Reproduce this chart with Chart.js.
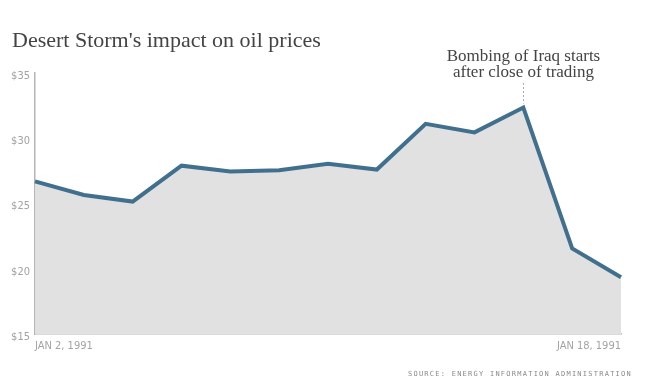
<!DOCTYPE html>
<html>
<head>
<meta charset="utf-8">
<script src="https://cdn.jsdelivr.net/npm/chart.js@4"></script>
<style>
  html, body { margin: 0; padding: 0; background: #fff; }
  #wrap { width: 645px; height: 390px; }
</style>
</head>
<body>
<div id="wrap"><canvas id="chart" width="645" height="390"></canvas></div>
<script>
// trading days, Jan 2 - Jan 18, 1991
const dates = ["JAN 2, 1991", "JAN 3", "JAN 4", "JAN 7", "JAN 8", "JAN 9", "JAN 10",
               "JAN 11", "JAN 14", "JAN 15", "JAN 16", "JAN 17", "JAN 18, 1991"];
const prices = [26.7, 25.65, 25.15, 27.9, 27.45, 27.55, 28.05, 27.6, 31.1, 30.45, 32.35, 21.55, 19.35];
const yTicks = [15, 20, 25, 30, 35];

const titleText = "Desert Storm's impact on oil prices";
const noteLines = ["Bombing of Iraq starts", "after close of trading"];
const noteIndex = 10;
const sourceText = "SOURCE: ENERGY INFORMATION ADMINISTRATION";

const lineColor = "#41708f";
const fillColor = "#e1e1e1";
const axisColor = "#b5b5b5";
const labelColor = "#a3a3a3";
const narrowFont = "'Liberation Sans Narrow', 'DejaVu Sans Condensed', sans-serif";

// title, annotation and source line
const extrasPlugin = {
    id: "extras",
    afterDraw(chart) {
        const ctx = chart.ctx;
        const x = chart.scales.x;
        const y = chart.scales.y;
        ctx.save();

        ctx.fillStyle = "#444";
        ctx.font = "22px 'Liberation Serif', serif";
        ctx.textAlign = "left";
        ctx.textBaseline = "alphabetic";
        ctx.fillText(titleText, 12, 47);

        const nx = Math.round(x.getPixelForValue(noteIndex)) + 0.5;
        ctx.font = "17px 'Liberation Serif', serif";
        ctx.textAlign = "center";
        ctx.fillText(noteLines[0], nx, 61);
        ctx.fillText(noteLines[1], nx, 77);

        ctx.strokeStyle = "#aaa";
        ctx.lineWidth = 1;
        ctx.setLineDash([2, 2]);
        ctx.beginPath();
        ctx.moveTo(nx, 83);
        ctx.lineTo(nx, y.getPixelForValue(prices[noteIndex]) - 4);
        ctx.stroke();
        ctx.setLineDash([]);

        ctx.fillStyle = "#8a8a8a";
        ctx.font = "7px 'DejaVu Sans Mono', monospace";
        ctx.letterSpacing = "1.25px";
        ctx.textAlign = "right";
        ctx.fillText(sourceText, 632, 376);

        ctx.restore();
    }
};

const ctx = document.getElementById("chart").getContext("2d");
new Chart(ctx, {
    type: "line",
    data: {
        labels: dates,
        datasets: [{
            data: prices,
            borderColor: lineColor,
            backgroundColor: fillColor,
            borderWidth: 4,
            pointRadius: 0,
            tension: 0,
            fill: "start",
            borderJoinStyle: "miter"
        }]
    },
    options: {
        responsive: false,
        animation: false,
        layout: { padding: { top: 73, right: 24, bottom: 36, left: 0 } },
        plugins: {
            legend: { display: false },
            tooltip: { enabled: false }
        },
        scales: {
            x: {
                offset: false,
                grid: { display: false, drawTicks: false },
                border: { color: axisColor, width: 1.5 },
                ticks: {
                    autoSkip: false,
                    maxRotation: 0,
                    align: "inner",
                    padding: 6,
                    color: labelColor,
                    font: { family: narrowFont, size: 11 },
                    callback: function (value, index) {
                        return index === 0 || index === dates.length - 1 ? dates[index] : "";
                    }
                },
                afterFit: function (scale) { scale.height = 20; }
            },
            y: {
                min: 15,
                max: 35,
                afterBuildTicks: function (scale) {
                    scale.ticks = yTicks.map(v => ({ value: v }));
                },
                grid: { display: false, drawTicks: false },
                border: { color: axisColor, width: 1.5 },
                ticks: {
                    padding: 5,
                    labelOffset: 3,
                    color: labelColor,
                    font: { family: narrowFont, size: 11 },
                    callback: v => "$" + v
                },
                afterFit: function (scale) { scale.width = 35; }
            }
        }
    },
    plugins: [extrasPlugin]
});
</script>
</body>
</html>
